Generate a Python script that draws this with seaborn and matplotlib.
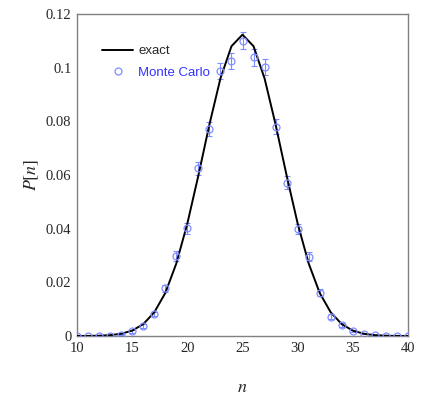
import numpy as np
import pandas as pd
import seaborn as sns
import matplotlib
matplotlib.use('Agg')
import matplotlib.pyplot as plt

# exact distribution P[n]
n_exact = list(range(10, 41))
p_exact = [0.00001, 0.00003, 0.00011, 0.00032, 0.00083, 0.0020, 0.0044, 0.0088,
           0.0160, 0.0270, 0.0419, 0.0598, 0.0788, 0.0960, 0.1080, 0.1123,
           0.1080, 0.0960, 0.0788, 0.0598, 0.0419, 0.0270, 0.0160, 0.0088,
           0.0044, 0.0020, 0.00083, 0.00032, 0.00011, 0.00003, 0.00001]

# Monte Carlo estimates with error bars
n_mc = list(range(10, 41))
p_mc = [0.0, 0.0, 0.0, 0.0001, 0.0004, 0.0017, 0.0037, 0.0082,
        0.0178, 0.0298, 0.0401, 0.0625, 0.0772, 0.0989, 0.1025, 0.1100,
        0.1039, 0.1004, 0.0780, 0.0572, 0.0399, 0.0296, 0.0161, 0.0072,
        0.0041, 0.0020, 0.0009, 0.0003, 0.0001, 0.0, 0.0]
err_mc = [0.0, 0.0, 0.0, 0.0001, 0.0002, 0.0004, 0.0006, 0.0009,
          0.0013, 0.0017, 0.0020, 0.0024, 0.0027, 0.0030, 0.0031, 0.0032,
          0.0031, 0.0030, 0.0027, 0.0024, 0.0020, 0.0017, 0.0013, 0.0009,
          0.0006, 0.0004, 0.0002, 0.0001, 0.0001, 0.0, 0.0]

exact = pd.DataFrame({'n': n_exact, 'P': p_exact})
mc = pd.DataFrame({'n': n_mc, 'P': p_mc, 'err': err_mc})

sns.set_theme(style='white')
plt.rcParams['mathtext.fontset'] = 'stix'

fig = plt.figure(figsize=(4.36, 3.98), dpi=100)
ax = fig.add_axes([0.1766, 0.1558, 0.7592, 0.809])

mc_color = '#7f8cff'
ax.errorbar(mc['n'], mc['P'], yerr=mc['err'], fmt='none', ecolor=mc_color,
            elinewidth=0.8, capsize=2, capthick=0.8, zorder=2)
sns.lineplot(data=exact, x='n', y='P', ax=ax, color='black', linewidth=1.4,
             label='exact', zorder=3)
ax.plot(mc['n'], mc['P'], linestyle='none', marker='o', markersize=5,
        markerfacecolor='none', markeredgecolor=mc_color, markeredgewidth=0.9,
        label='Monte Carlo', zorder=4)

ax.set_xlim(10, 40)
ax.set_ylim(0, 0.12)
ax.set_xticks([10, 15, 20, 25, 30, 35, 40])
ax.set_yticks([0, 0.02, 0.04, 0.06, 0.08, 0.1, 0.12])
ax.set_yticklabels(['0', '0.02', '0.04', '0.06', '0.08', '0.1', '0.12'])
ax.tick_params(length=0, pad=4, labelsize=10.5)
for lbl in ax.get_xticklabels() + ax.get_yticklabels():
    lbl.set_family('Liberation Serif')

for s in ax.spines.values():
    s.set_color('#808080')
    s.set_linewidth(1.0)

ax.set_xlabel(r'$n$', fontsize=13)
ax.set_ylabel(r'$P[n]$', fontsize=13)
ax.xaxis.set_label_coords(0.5, -0.13)
ax.yaxis.set_label_coords(-0.11, 0.5)

leg = ax.legend(loc='upper left', bbox_to_anchor=(0.035, 0.945), frameon=False,
                handlelength=2.4, handletextpad=0.35,
                borderaxespad=0.6, labelspacing=0.7,
                prop={'family': 'Liberation Sans', 'size': 9.5})
leg.get_texts()[1].set_color('#3333ff')

fig.savefig('out.png', dpi=100)
